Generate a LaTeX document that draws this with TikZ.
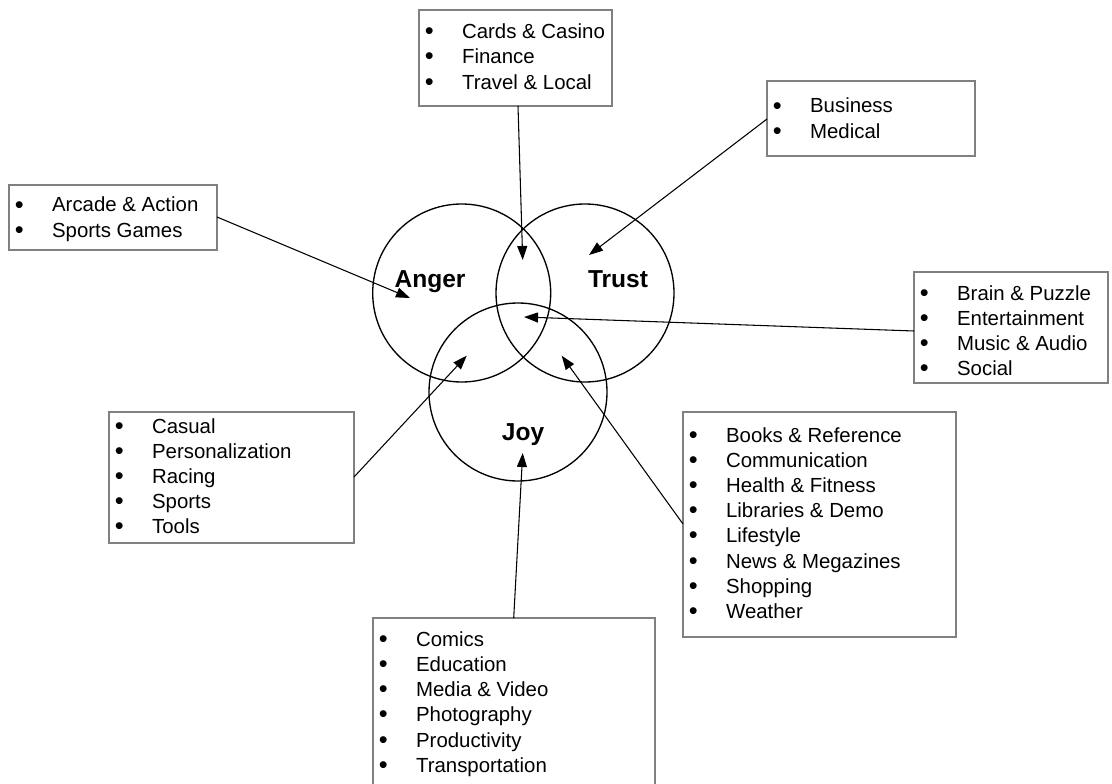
\documentclass[tikz,border=0pt]{standalone}
\usepackage{fontspec}
\setmainfont{Liberation Sans}
\usetikzlibrary{arrows.meta,calc,fit}
\definecolor{boxgray}{RGB}{128,128,128}
\tikzset{
  box/.style={draw=boxgray, line width=1.2pt, inner sep=0pt, rectangle},
  circ/.style={draw=black, line width=1.0pt, circle, inner sep=0pt, minimum size=133.5pt},
  item/.style={anchor=base west, inner sep=0pt, font=\fontsize{15.3}{18}\selectfont},
  lab/.style={anchor=base, inner sep=0pt, font=\fontsize{18.4}{22}\selectfont\bfseries},
  conn/.style={draw=black, line width=0.8pt, -{Triangle[length=10.5pt,width=7.5pt]}}
}
\newcommand\mybul{\raisebox{-0.8pt}{\fontsize{19}{19}\selectfont\textbullet}}
\newcommand\mklist[4]{%
  \foreach [count=\k] \itm in {#4} {%
    \node[item] (#1-\k) at (#2, {#3+(\k-1)*25.2}) {\makebox[28pt][l]{\mybul}\itm};
  }%
}
\begin{document}
\begin{tikzpicture}[x=0.75pt,y=-0.75pt]
\useasboundingbox (0,0) rectangle (1112,784);
% circles
\node[circ] (anger) at (461.7,293) {};
\node[circ] (trust) at (585,293) {};
\node[circ] (joy) at (518,392) {};
\node[lab] (angerlab) at (430,287) {Anger};
\node[lab] (trustlab) at (618,287) {Trust};
\node[lab] (joylab) at (523,440) {Joy};
% boxes
\node[box, fit={(419,10) (612,106)}] (topbox) {};
\node[box, fit={(767,81) (975,156)}] (busbox) {};
\node[box, fit={(9,185) (217,250)}] (arcbox) {};
\node[box, fit={(914,272) (1108,383)}] (brainbox) {};
\node[box, fit={(109,412) (354,543)}] (casbox) {};
\node[box, fit={(683,412) (956,637)}] (bookbox) {};
\node[box, fit={(373,618) (655,800)}] (combox) {};
% lists
\mklist{tl}{424.5}{38.7}{Cards \& Casino, Finance, Travel \& Local}
\mklist{bl}{772.5}{113}{Business, Medical}
\mklist{al}{14.5}{212}{Arcade \& Action, Sports Games}
\mklist{brl}{919.5}{300}{Brain \& Puzzle, Entertainment, Music \& Audio, Social}
\mklist{cl}{114.5}{433}{Casual, Personalization, Racing, Sports, Tools}
\mklist{bkl}{688.5}{442}{Books \& Reference, Communication, Health \& Fitness, Libraries \& Demo, Lifestyle, News \& Megazines, Shopping, Weather}
\mklist{cml}{378.5}{646.3}{Comics, Education, Media \& Video, Photography, Productivity, Transportation}
% connector ends
\coordinate (topS) at (518,106);
\coordinate (topT) at (522.7,260);
\coordinate (busS) at (767,119);
\coordinate (busT) at (589,255);
\coordinate (arcS) at (217,217);
\coordinate (arcT) at (410,298);
\coordinate (brS) at (914,331);
\coordinate (brT) at (524,317);
\coordinate (casS) at (354,477);
\coordinate (casT) at (466.7,355.7);
\coordinate (bkS) at (683,524);
\coordinate (bkT) at (561.7,355.7);
\coordinate (cmS) at (513.7,618);
\coordinate (cmT) at (522.7,453);
\draw[conn] (topS) -- (topT);
\draw[conn] (busS) -- (busT);
\draw[conn] (arcS) -- (arcT);
\draw[conn] (brS) -- (brT);
\draw[conn] (casS) -- (casT);
\draw[conn] (bkS) -- (bkT);
\draw[conn] (cmS) -- (cmT);
\end{tikzpicture}
\end{document}
